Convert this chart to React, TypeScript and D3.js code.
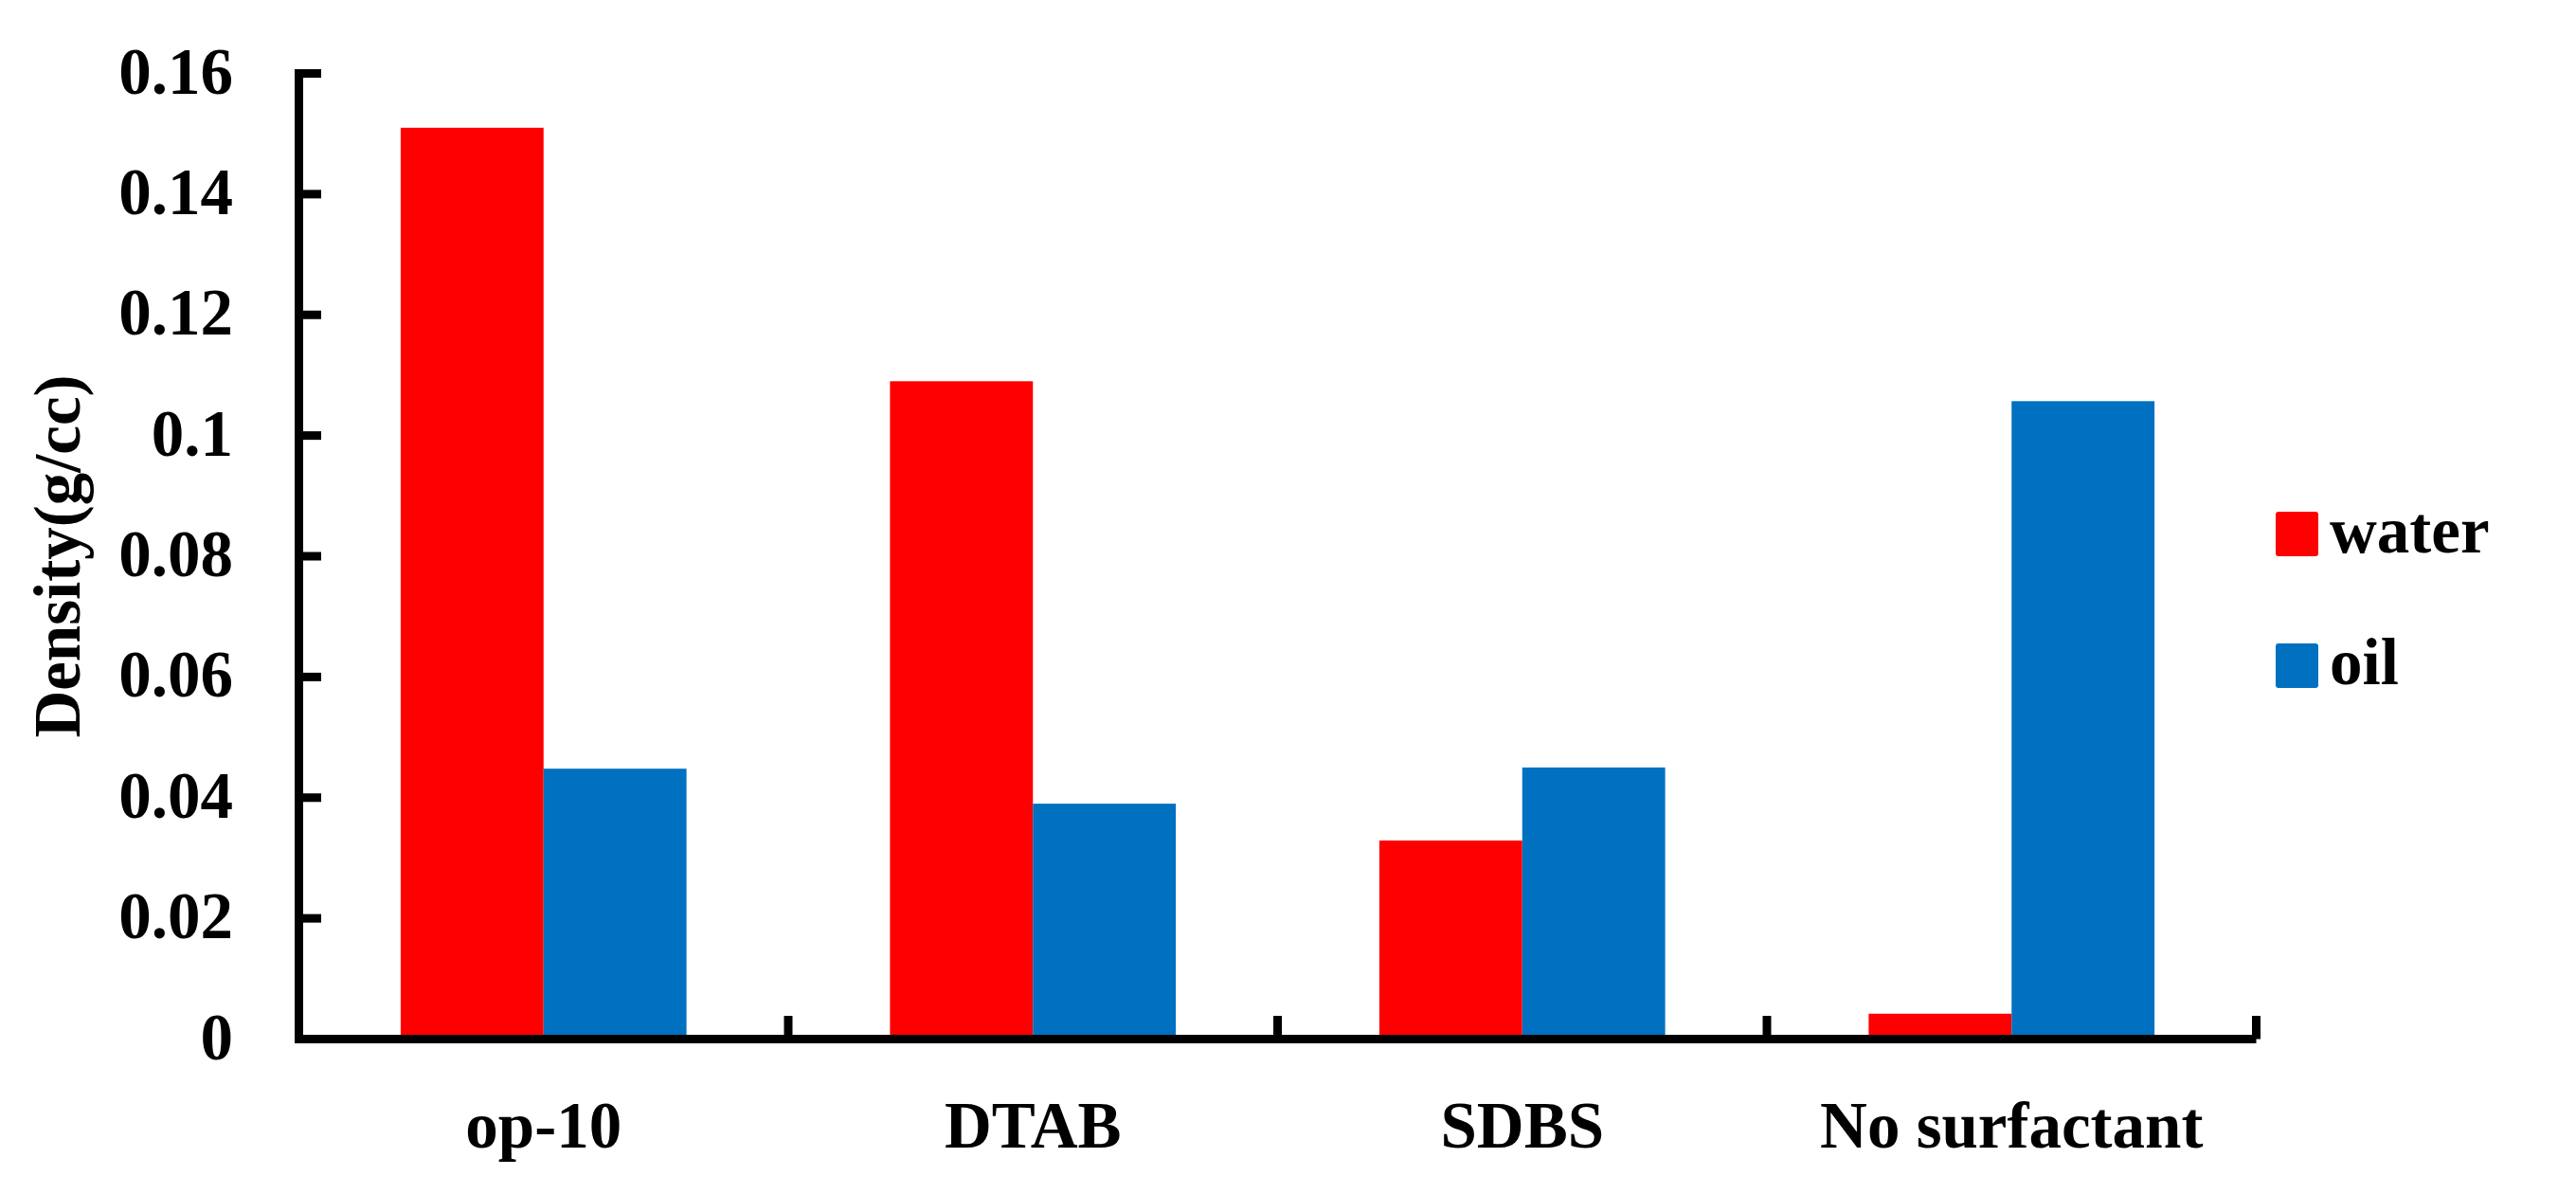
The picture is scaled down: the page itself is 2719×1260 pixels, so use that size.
import React from "react";
import * as d3 from "d3";

const categories = ["op-10", "DTAB", "SDBS", "No surfactant"];
const seriesNames = ["water", "oil"];
const waterValues = [0.151, 0.109, 0.0329, 0.0042];
const oilValues = [0.0448, 0.039, 0.045, 0.1057];
const seriesColors = ["#FF0000", "#0070C0"];
const yTicks = [0, 0.02, 0.04, 0.06, 0.08, 0.1, 0.12, 0.14, 0.16];

const W = 2719;
const H = 1260;
const FONT = "'Liberation Serif', 'DejaVu Serif', serif";

export default function App() {
  const x0 = 315.5;
  const x1 = 2381.5;
  const yBase = 1096.5;
  const yTop = 77.5;
  const y = d3.scaleLinear().domain([0, 0.16]).range([yBase, yTop]);
  const x = d3.scaleBand<string>().domain(categories).range([x0, x1]).paddingInner(0).paddingOuter(0);
  const xs = d3
    .scaleBand<string>()
    .domain(seriesNames)
    .range([0, x.bandwidth()])
    .paddingInner(0)
    .paddingOuter(0.712);
  const values = [waterValues, oilValues];
  const boundaries = categories.map((c) => (x(c) as number) + x.bandwidth());
  const axisW = 9;

  return (
    <svg
      width={W}
      height={H}
      style={{ position: "absolute", left: 0, top: 0, background: "#fff" }}
    >
      <rect x={0} y={0} width={W} height={H} fill="#fff" />
      {/* bars */}
      {seriesNames.map((s, si) =>
        categories.map((c, ci) => (
          <rect
            key={s + c}
            x={(x(c) as number) + (xs(s) as number)}
            y={y(values[si][ci])}
            width={xs.bandwidth()}
            height={yBase - y(values[si][ci])}
            fill={seriesColors[si]}
          />
        ))
      )}
      {/* y axis */}
      <line x1={x0} x2={x0} y1={yTop - 4.5} y2={yBase + 4.5} stroke="#000" strokeWidth={axisW} />
      {yTicks.map((t) => (
        <g key={t}>
          {t > 0 && (
            <line x1={x0} x2={339} y1={y(t)} y2={y(t)} stroke="#000" strokeWidth={axisW} />
          )}
          <text
            x={246}
            y={y(t) + 21}
            textAnchor="end"
            fontFamily={FONT}
            fontWeight="bold"
            fontSize={69}
            fill="#000"
          >
            {String(t)}
          </text>
        </g>
      ))}
      {/* x axis */}
      <line x1={x0 - 4.5} x2={x1} y1={yBase} y2={yBase} stroke="#000" strokeWidth={axisW} />
      {boundaries.map((b, i) => (
        <line
          key={i}
          x1={b}
          x2={b}
          y1={1072}
          y2={yBase + (i === boundaries.length - 1 ? 0 : 0)}
          stroke="#000"
          strokeWidth={axisW}
        />
      ))}
      {categories.map((c) => (
        <text
          key={c}
          x={(x(c) as number) + x.bandwidth() / 2}
          y={1211}
          textAnchor="middle"
          fontFamily={FONT}
          fontWeight="bold"
          fontSize={69}
          fill="#000"
        >
          {c}
        </text>
      ))}
      {/* y title */}
      <text
        transform={`translate(84, ${(yTop + yBase) / 2}) rotate(-90)`}
        textAnchor="middle"
        fontFamily={FONT}
        fontWeight="bold"
        fontSize={69}
        fill="#000"
      >
        Density(g/cc)
      </text>
      {/* legend */}
      {seriesNames.map((s, i) => (
        <g key={s}>
          <rect
            x={2402}
            y={540 + i * 139}
            width={45}
            height={47}
            rx={3}
            fill={seriesColors[i]}
          />
          <text
            x={2459}
            y={583 + i * 139}
            fontFamily={FONT}
            fontWeight="bold"
            fontSize={69}
            fill="#000"
          >
            {s}
          </text>
        </g>
      ))}
    </svg>
  );
}
